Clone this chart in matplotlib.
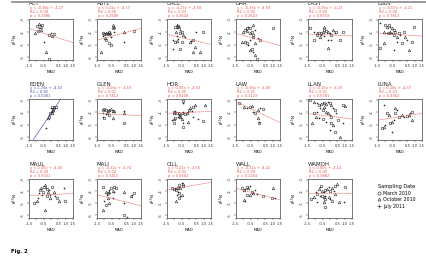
import matplotlib
matplotlib.use("Agg")
import matplotlib.pyplot as plt
from matplotlib.lines import Line2D

W, H = 427, 258

# NAO index (x) and isotope value (y) per site, date code: c=March 2010, t=October 2010, p=July 2011
ACT_x = [-0.97, -0.83, -0.74, -0.68, -0.61, -0.81, -0.90, -1.12, -0.12, -0.01, 0.10, 0.21, -0.46, -0.34, -0.17, -0.68]
ACT_y = [-3.51, -3.38, -3.46, -3.56, -3.46, -3.71, -3.88, -4.10, -4.23, -4.10, -4.31, -4.18, -4.76, -5.56, -6.15, -3.83]
ACT_d = "ctptcpctcptcptct"

ABYE_x = [-1.10, -0.99, -0.92, -0.88, -0.83, -0.77, -0.70, -0.66, -0.59, -1.06, -0.97, -0.88, -0.54, -0.43, -0.39, -0.32, -0.66, -0.54, -1.21, 0.34, 0.34, 1.01, -0.32]
ABYE_y = [-4.10, -4.18, -4.07, -4.12, -4.04, -4.10, -4.02, -4.15, -4.07, -4.31, -4.50, -4.63, -4.36, -3.70, -3.43, -3.96, -4.90, -5.03, -5.56, -4.76, -3.96, -3.91, -3.56]
ABYE_d = "cctcptcctptcpctpcctptct"

CACL_x = [-0.94, -0.83, -0.79, -0.72, -0.66, -0.61, -0.50, -0.88, -1.06, -0.94, -0.83, -0.72, -0.61, -0.39, -0.28, -0.50, 0.06, 0.17, 0.28, 0.39, 0.50, 0.94, 0.72, -1.06, -0.61, 0.28, -0.79]
CACL_y = [-3.56, -3.43, -3.70, -3.51, -3.62, -3.83, -3.96, -3.96, -4.63, -4.76, -4.68, -4.58, -4.10, -4.23, -4.36, -4.76, -4.76, -4.71, -4.63, -5.16, -3.96, -3.96, -5.56, -5.38, -5.38, -5.56, -4.31]
CACL_d = "ctpctpctpctpctpctpctpctpctp"

DAR_x = [-0.99, -0.88, -0.81, -0.77, -0.72, -0.66, -0.54, -0.43, -0.32, -0.21, -0.32, -0.37, -0.54, -0.88, -1.10, -0.77, -0.66, -0.54, -0.43, -0.32, -0.21, -0.10, -0.21, 0.01, 0.12, 1.01, -0.54]
DAR_y = [-3.96, -3.83, -3.78, -3.70, -3.88, -3.56, -3.70, -3.96, -3.43, -3.83, -4.23, -4.36, -4.63, -4.76, -4.76, -4.90, -5.03, -5.43, -5.38, -5.56, -5.83, -6.15, -4.90, -4.50, -4.63, -3.70, -4.10]
DAR_d = "tcpctpcctpctpctcptcptctpcct"

EAST_x = [-1.33, -1.10, -0.91, -0.86, -0.74, -0.67, -0.63, -0.58, -0.51, -0.44, -0.39, -0.27, -0.15, -0.03, 0.08, 0.20, 0.32, 0.44, 0.91, -0.15, -0.11, -1.10, -0.39, 0.08, 0.67]
EAST_y = [-3.70, -3.96, -4.10, -4.23, -4.04, -4.36, -4.23, -4.10, -3.96, -4.31, -3.83, -3.88, -3.96, -4.10, -4.23, -3.83, -4.10, -3.96, -3.96, -4.63, -5.30, -4.63, -3.56, -4.63, -4.63]
EAST_d = "cptcctpctpcctpctpccptctpc"

EBBV_x = [-1.34, -1.00, -0.89, -0.77, -0.66, -0.55, -0.43, -0.32, -1.11, -0.89, -0.77, -0.66, -0.55, -0.43, -0.20, -0.09, 0.02, 0.25, 0.36, 0.48, 0.93, 0.82, 0.59, -0.43, -1.34, -1.11, -0.20, 0.14]
EBBV_y = [-3.30, -3.43, -3.56, -3.43, -3.56, -3.70, -3.83, -3.96, -3.96, -4.04, -4.10, -3.96, -4.10, -4.23, -4.36, -4.10, -4.23, -3.96, -4.36, -4.63, -3.56, -4.76, -5.43, -5.43, -5.30, -4.90, -4.76, -4.90]
EBBV_d = "pctcptcctpctpctcpctpcctpctpc"

EDEN_x = [0.10, 0.21, 0.28, 0.14, 0.06, -0.01, -0.08, 0.06, -0.12, -0.17, -0.23, -0.34, 0.32, 0.17, -0.01]
EDEN_y = [-3.56, -3.62, -3.70, -3.78, -3.88, -3.96, -4.10, -4.04, -4.23, -4.36, -4.50, -5.30, -3.56, -3.83, -3.70]
EDEN_d = "ctpctpctpctpctp"

GLEN_x = [-1.10, -0.99, -0.88, -0.77, -0.66, -0.54, -0.43, -0.32, -1.06, -0.92, -0.83, -0.70, -1.10, -0.99, -0.43, 0.34, 0.34, 0.34]
GLEN_y = [-3.83, -3.78, -3.83, -3.88, -3.83, -3.78, -3.88, -3.91, -4.10, -4.18, -4.10, -4.23, -4.36, -4.50, -4.50, -3.88, -4.10, -4.84]
GLEN_d = "ccccttttpptcpctptc"

HOR_x = [-1.05, -1.01, -0.94, -0.83, -0.71, -0.65, -0.60, -0.49, -0.38, -0.26, -0.15, -0.04, 0.03, 0.07, 0.19, 0.30, 0.41, -0.42, -0.38, -0.60, -0.78, -0.94, -1.05, -1.16, -1.05, -0.49, -0.38, -0.38, -0.04, 0.63, 0.97, 1.08, 0.30]
HOR_y = [-3.96, -4.10, -3.88, -4.04, -4.10, -4.23, -4.31, -4.10, -3.96, -4.15, -4.04, -3.96, -3.83, -3.70, -3.88, -3.56, -3.43, -3.30, -3.08, -4.36, -4.42, -4.50, -4.58, -4.63, -4.90, -4.58, -4.90, -5.16, -4.76, -4.58, -4.68, -3.43, -4.36]
HOR_d = "ctpctpctpctpctpctpctpctpctpctpctp"

LAW_x = [-1.32, -0.98, -0.76, -0.53, -0.42, -0.31, -0.20, 0.03, 0.14, 0.37, 0.03, 0.07, 0.10]
LAW_y = [-3.30, -3.56, -3.70, -3.56, -3.51, -3.96, -4.10, -3.83, -3.70, -3.78, -4.50, -4.76, -4.90]
LAW_d = "ctpctpctpctpc"

LLAN_x = [-1.33, -1.10, -0.86, -0.74, -0.63, -0.51, -0.39, -0.27, -0.15, -0.03, 0.08, 0.20, 0.32, -0.39, -0.67, -0.51, -0.27, -0.86, -1.10, -0.15, -0.03, 0.08, -0.98, -0.74, -0.51, -1.22, -0.27, 0.08, 0.20, -0.03, 0.32, 0.67, 0.91, 0.91, 1.03, 0.44, 0.56]
LLAN_y = [-3.03, -3.16, -3.30, -3.43, -3.35, -3.24, -3.30, -3.35, -3.16, -3.30, -3.43, -3.70, -3.83, -3.56, -3.70, -3.83, -3.96, -3.96, -4.10, -4.10, -4.23, -4.36, -4.36, -4.50, -4.58, -4.90, -4.76, -4.90, -5.03, -5.43, -5.56, -5.96, -4.90, -3.43, -3.51, -4.10, -4.63]
LLAN_d = "ctpctpctpctpctpctpctpctpctpctpctpctpc"

LUNA_x = [-1.23, -1.11, -1.00, -0.89, -0.77, -1.11, -0.66, -0.55, -0.43, -0.32, -0.32, -0.20, -0.09, 0.14, 0.25, 0.48, 0.59, 0.70, 0.82, 0.82, -0.55]
LUNA_y = [-5.30, -5.16, -5.03, -4.10, -4.23, -3.43, -4.90, -4.76, -4.63, -4.10, -3.70, -3.83, -4.36, -4.23, -4.36, -4.31, -4.23, -4.10, -3.96, -4.63, -5.56]
LUNA_d = "ctpctpctpctpctpctpctp"

MAUL_x = [-1.16, -0.98, -0.89, -0.76, -0.71, -0.60, -0.49, -0.38, -0.31, -0.26, -0.22, -0.15, -0.26, -0.08, -0.04, 0.07, 0.19, 0.30, 0.41, 0.52, 0.86, 0.97, -0.38, -0.83, -0.53]
MAUL_y = [-4.98, -4.84, -4.56, -3.87, -3.73, -4.28, -3.59, -3.45, -3.67, -3.78, -4.01, -3.87, -4.42, -4.56, -4.28, -3.59, -4.01, -4.42, -4.56, -4.84, -3.73, -4.84, -5.53, -4.14, -4.01]
MAUL_d = "ctpctpctpctpctpctpctpctpc"

MALI_x = [-1.10, -0.88, -0.83, -0.77, -0.70, -0.66, -0.54, -0.43, -0.32, -0.32, -0.77, -0.99, -0.92, -0.66, -0.43, -0.21, 0.34, 0.34, 0.34, 0.79, 0.90, 1.01, -1.10, 0.57]
MALI_y = [-3.59, -4.01, -4.28, -4.14, -4.01, -3.87, -3.73, -3.95, -4.01, -3.59, -4.56, -4.84, -5.12, -4.98, -4.56, -3.73, -4.01, -4.98, -5.95, -4.42, -4.28, -4.14, -5.53, -6.15]
MALI_d = "ctpctpctpctpctpctpctpctp"

CILL_x = [-1.16, -1.05, -0.94, -0.87, -0.83, -0.71, -0.65, -0.60, -0.49, -0.42, -0.38, -0.78, -0.65, -0.49, -0.60, -0.71, -0.87, -0.83]
CILL_y = [-3.73, -3.78, -3.67, -3.87, -3.73, -3.59, -3.45, -3.67, -3.31, -3.51, -3.39, -4.01, -4.14, -4.28, -4.42, -4.56, -4.84, -4.28]
CILL_d = "ctpctpctpctpctpctp"

WALL_x = [-1.10, -0.98, -0.87, -0.76, -0.65, -0.53, -0.42, -0.53, -0.20, -0.76, -0.98, -0.87, 0.37, 1.04, 1.15, 0.93, -0.31, -0.08]
WALL_y = [-3.73, -3.87, -3.78, -3.59, -3.67, -3.51, -4.01, -4.28, -3.87, -4.28, -4.70, -4.84, -4.42, -3.73, -4.56, -4.51, -4.14, -4.23]
WALL_d = "ctpctpctpctpctpctp"

WAMOH_x = [-1.32, -1.10, -0.98, -0.87, -0.76, -0.65, -0.58, -0.53, -0.42, -0.31, -0.20, -0.08, 0.03, 0.14, 0.25, 0.37, 0.48, -0.65, -0.53, -0.42, -0.31, -0.31, -0.08, 0.03, 0.14, -0.42, -0.87, -0.31, 0.59, 0.93, 1.04, 0.37]
WAMOH_y = [-4.62, -4.48, -4.06, -4.20, -3.78, -3.64, -3.51, -3.92, -4.06, -3.84, -3.78, -3.64, -3.92, -3.73, -3.92, -3.51, -3.37, -4.34, -4.39, -4.48, -4.34, -4.62, -4.48, -4.62, -4.76, -4.89, -4.89, -5.31, -4.89, -4.89, -3.64, -4.20]
WAMOH_d = "ctpctpctpctpctpctpctpctpctpctpct"

# regression fits as printed in each panel
sites = ["ACT", "ABYE", "CACL", "DAR", "EAST", "EBBV",
         "EDEN", "GLEN", "HOR", "LAW", "LLAN", "LUNA",
         "MAUL", "MALI", "CILL", "WALL", "WAMOH"]
xs = [ACT_x, ABYE_x, CACL_x, DAR_x, EAST_x, EBBV_x, EDEN_x, GLEN_x, HOR_x,
      LAW_x, LLAN_x, LUNA_x, MAUL_x, MALI_x, CILL_x, WALL_x, WAMOH_x]
ys = [ACT_y, ABYE_y, CACL_y, DAR_y, EAST_y, EBBV_y, EDEN_y, GLEN_y, HOR_y,
      LAW_y, LLAN_y, LUNA_y, MAUL_y, MALI_y, CILL_y, WALL_y, WAMOH_y]
ds = [ACT_d, ABYE_d, CACL_d, DAR_d, EAST_d, EBBV_d, EDEN_d, GLEN_d, HOR_d,
      LAW_d, LLAN_d, LUNA_d, MAUL_d, MALI_d, CILL_d, WALL_d, WAMOH_d]
slopes = [-0.38, 0.31, -0.27, -0.33, -0.05, -0.07, 1.74, -0.06, 0.05,
          -0.56, -0.15, 0.18, 0.06, -0.31, 0.21, -0.32, 0.00]
intercepts = [-4.27, -4.17, -4.58, -4.59, -4.23, -4.21, -4.10, -4.19, -4.02,
              -4.00, -4.33, -4.37, -4.26, -4.74, -3.55, -4.22, -4.14]
r2 = [0.08, 0.06, 0.03, 0.05, 0.00, 0.00, 0.82, 0.01, 0.00,
      0.21, 0.01, 0.03, 0.00, 0.04, 0.02, 0.09, 0.00]
pval = [0.2986, 0.2580, 0.3604, 0.2623, 0.8703, 0.7813, 0.0001, 0.7412, 0.8208,
        0.1123, 0.5781, 0.4362, 0.9321, 0.3411, 0.5602, 0.2254, 0.9882]
sig = [False] * 6 + [True] + [False] * 10

date_names = ["March 2010", "October 2010", "July 2011"]
date_marker = {"c": "o", "t": "^", "p": "+"}

col_left = [29, 97, 167, 236, 308, 378]
row_box = [(19, 60), (99, 140), (179, 218)]
box_w = 44

fig = plt.figure(figsize=(W / 100, H / 100), dpi=100)
fig.patch.set_facecolor("white")

red = "#e8524a"
blue = "#3a4fb0"
for i, s in enumerate(sites):
    r, c = divmod(i, 6)
    top, bot = row_box[r]
    ax = fig.add_axes([col_left[c] / W, 1 - bot / H, box_w / W, (bot - top) / H])
    for code in "ctp":
        px = [x for x, d in zip(xs[i], ds[i]) if d == code]
        py = [y for y, d in zip(ys[i], ds[i]) if d == code]
        ax.plot(px, py, linestyle="none", marker=date_marker[code], ms=1.9,
                mfc="none", mec="#2a2a2a", mew=0.4)
    col = blue if sig[i] else red
    lx = [-1.5, 1.5]
    ax.plot(lx, [intercepts[i] + slopes[i] * v for v in lx], color=col,
            lw=0.45, ls="-" if sig[i] else (0, (2, 1)))
    ax.set_xlim(-1.5, 1.5)
    ax.set_ylim(-6.23, -2.95)
    ax.set_xticks([-1.5, -1.0, -0.5, 0.0, 0.5, 1.0, 1.5])
    ax.set_xticklabels(["-1.5", "", "-0.5", "", "0.5", "1.0", "1.5"])
    ax.set_yticks([-6, -5, -4, -3])
    ax.set_yticklabels(["-6", "-5", "-4", "-3"], rotation=90, va="center")
    ax.tick_params(labelsize=2.7, length=1.5, width=0.35, pad=1.2, colors="#333333")
    for sp in ax.spines.values():
        sp.set_linewidth(0.5)
        sp.set_color("#444444")
    ax.set_xlabel("NAO", fontsize=2.9, labelpad=1.5)
    ax.set_ylabel(r"$\delta^{15}$N", fontsize=2.9, labelpad=1)
    hgt = bot - top
    ax.text(0, 1 + 15 / hgt, s, transform=ax.transAxes, fontsize=4,
            va="center", ha="left", color="#222222")
    lines = ["y = %.2fx + %.2f" % (slopes[i], intercepts[i]),
             "R2 = %.2f" % r2[i], "p = %.4f" % pval[i]]
    for k, t in enumerate(lines):
        ax.text(0.02, 1 + (11 - 4 * k) / hgt, t, transform=ax.transAxes,
                fontsize=2.6, va="center", ha="left", color=col)

handles = [Line2D([], [], linestyle="none", marker=date_marker[k], ms=2.2,
                  mfc="none", mec="#333333", mew=0.45) for k in "ctp"]
leg = fig.legend(handles, date_names, loc="upper left",
                 bbox_to_anchor=(374 / W, 1 - 181 / H), frameon=False,
                 title="Sampling Date", fontsize=3.4, title_fontsize=3.6,
                 handlelength=0.8, handletextpad=0.4, labelspacing=0.3,
                 borderpad=0.2)

fig.add_artist(Line2D([12 / W, 1], [1 - 1.5 / H, 1 - 1.5 / H],
                      color="#9a9a9a", lw=1.4))
fig.text(11 / W, 1 - 251 / H, "Fig. 2", fontsize=3.8, fontweight="bold",
         va="center", ha="left")

fig.savefig("out.png", dpi=100)
